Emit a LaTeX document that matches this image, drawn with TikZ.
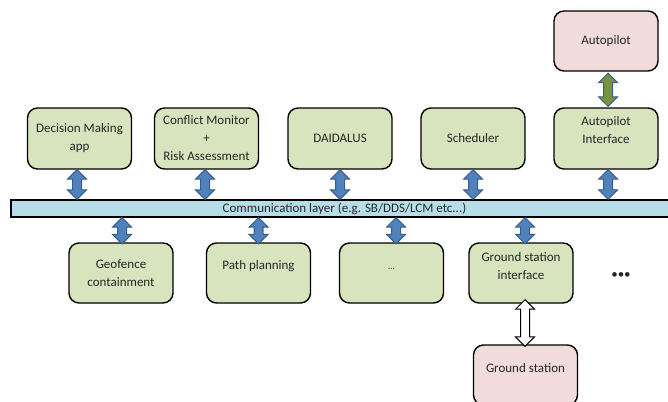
\documentclass[tikz,border=0pt]{standalone}
\usepackage{fontspec}
\setmainfont{Carlito}
\usetikzlibrary{calc}
\definecolor{boxgreen}{HTML}{D7E4BD}
\definecolor{boxpink}{HTML}{F2DCDB}
\definecolor{barblue}{HTML}{B7DEE8}
\definecolor{arrblue}{HTML}{4F81BD}
\definecolor{arrblueline}{HTML}{385D8A}
\definecolor{arrgreen}{HTML}{77933C}
\newcommand\vdarrow[3]{%
  \draw[#1] let \p1=#2, \p2=#3 in
    (\x1,\y1) -- (\x1+9.5pt,\y1-9.5pt) -- (\x1+4.5pt,\y1-9.5pt) --
    (\x1+4.5pt,\y2+9.5pt) -- (\x1+9.5pt,\y2+9.5pt) -- (\x1,\y2) --
    (\x1-9.5pt,\y2+9.5pt) -- (\x1-4.5pt,\y2+9.5pt) --
    (\x1-4.5pt,\y1-9.5pt) -- (\x1-9.5pt,\y1-9.5pt) -- cycle;}
\tikzset{
  txt/.style={font=\fontsize{13}{18}\selectfont, text=black!85},
  box/.style={txt, draw=black, line width=1.4pt, rounded corners=10pt,
    minimum width=104pt, minimum height=61pt, inner sep=2pt, align=center},
  gbox/.style={box, fill=boxgreen},
  pbox/.style={box, fill=boxpink},
  bluearr/.style={fill=arrblue, draw=arrblueline, line width=1pt},
  greenarr/.style={fill=arrgreen, draw=arrblueline, line width=1pt},
  whitearr/.style={fill=white, draw=black, line width=1pt},
}
\begin{document}
\begin{tikzpicture}[x=1pt,y=-1pt]
\useasboundingbox (0,0) rectangle (668,401);
\clip (0,0) rectangle (668,401);
\fill[white] (0,0) rectangle (668,401);
% top row
\node[gbox] (dm)  at (79.5,138.5) {Decision Making\\app};
\node[gbox] (cm)  at (206.5,138.5) {Conflict Monitor\\+\\Risk Assessment};
\node[gbox] (dai) at (340,138.5) {DAIDALUS};
\node[gbox] (sch) at (473,138.5) {Scheduler};
\node[gbox] (api) at (606,138.5) {Autopilot\\Interface\\[-6pt]\strut};
\node[pbox, minimum height=60pt] (ap) at (606,41) {Autopilot};
% bar
\node[txt, draw=black, line width=1.4pt, fill=barblue, minimum width=667pt,
  minimum height=17pt, inner sep=0pt] (bar) at (344.5,208.5)
  {Communication layer (e.g. SB/DDS/LCM etc...)};
% bottom row
\node[gbox, minimum height=60pt] (geo) at (121,273) {Geofence\\containment};
\node[gbox, minimum height=60pt] (pp)  at (258.5,273) {Path planning\\[-8pt]\strut};
\node[gbox, minimum height=60pt] (etc) at (391.5,273)
  {\smash{\raisebox{4pt}{\fontsize{9}{9}\selectfont …}}};
\node[gbox, minimum height=60pt] (gsi) at (521,273) {Ground station\\interface\\[-10pt]\strut};
\node[pbox, minimum height=60pt] (gs)  at (525.5,375) {Ground station\\[-10pt]\strut};
\node[txt] (more) at (621,276) {•••};
% arrows top
\vdarrow{bluearr}{([xshift=-2.5pt]dm.south)}{([xshift=-2.5pt]dm.south |- bar.north)}
\vdarrow{bluearr}{([xshift=-1.5pt]cm.south)}{([xshift=-1.5pt]cm.south |- bar.north)}
\vdarrow{bluearr}{(dai.south)}{(dai.south |- bar.north)}
\vdarrow{bluearr}{(sch.south)}{(sch.south |- bar.north)}
\vdarrow{bluearr}{([xshift=2pt]api.south)}{([xshift=2pt]api.south |- bar.north)}
\vdarrow{greenarr}{([xshift=2pt,yshift=-1.5pt]ap.south)}{([xshift=2pt,yshift=1pt]api.north)}
% arrows bottom
\vdarrow{bluearr}{([xshift=1pt]geo.north |- bar.south)}{([xshift=1pt,yshift=-1.5pt]geo.north)}
\vdarrow{bluearr}{(pp.north |- bar.south)}{([yshift=-1.5pt]pp.north)}
\vdarrow{bluearr}{([xshift=4.5pt]etc.north |- bar.south)}{([xshift=4.5pt,yshift=-1.5pt]etc.north)}
\vdarrow{bluearr}{([xshift=4pt]gsi.north |- bar.south)}{([xshift=4pt,yshift=-1.5pt]gsi.north)}
\vdarrow{whitearr}{([xshift=4pt,yshift=4pt]gsi.south)}{([xshift=0pt,yshift=-2pt]gs.north)}
\end{tikzpicture}
\end{document}
